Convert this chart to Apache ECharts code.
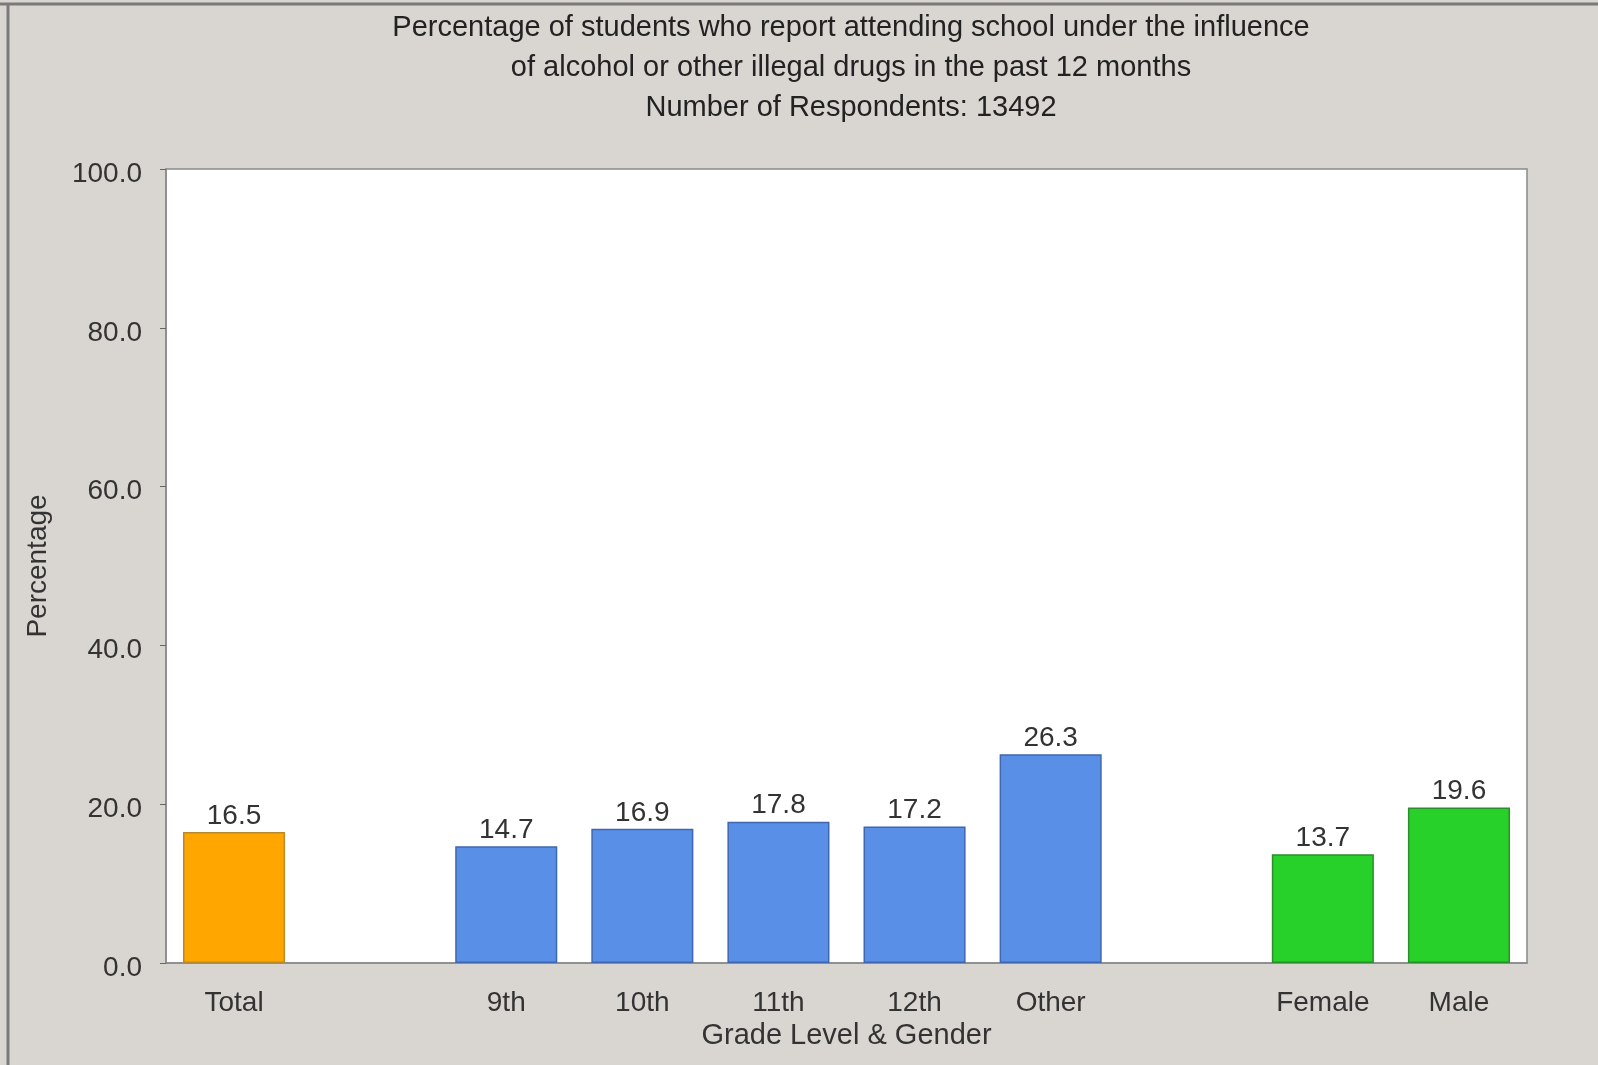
<!DOCTYPE html>
<html>
<head>
<meta charset="utf-8">
<script src="https://cdn.jsdelivr.net/npm/echarts@6/dist/echarts.min.js"></script>
<style>
html,body{margin:0;padding:0;background:#d9d6d1;}
#main{width:1598px;height:1065px;}
</style>
</head>
<body>
<div id="main"></div>
<script>
var titleLines = [
  'Percentage of students who report attending school under the influence',
  'of alcohol or other illegal drugs in the past 12 months',
  'Number of Respondents: 13492'
];
var categories = ['Total', '', '9th', '10th', '11th', '12th', 'Other', '', 'Female', 'Male'];
var values = [16.5, null, 14.7, 16.9, 17.8, 17.2, 26.3, null, 13.7, 19.6];
var groups = ['total', null, 'grade', 'grade', 'grade', 'grade', 'grade', null, 'gender', 'gender'];
var yTicks = [0, 20, 40, 60, 80, 100];
var xAxisName = 'Grade Level & Gender';
var yAxisName = 'Percentage';

var groupFill = { total: '#ffa600', grade: '#5a8fe8', gender: '#27d12a' };
var groupBorder = { total: '#b98a2c', grade: '#3f67b0', gender: '#2a8f2a' };

var FONT = "'Liberation Sans', Arial, sans-serif";
var chart = echarts.init(document.getElementById('main'), null, { renderer: 'canvas' });

var barData = values.map(function (v, i) {
  if (v === null) return null;
  return {
    value: v,
    itemStyle: { color: groupFill[groups[i]], borderColor: groupBorder[groups[i]], borderWidth: 1.5 }
  };
});

chart.setOption({
  backgroundColor: '#d9d6d1',
  animation: false,
  textStyle: { fontFamily: FONT },
  title: {
    text: titleLines.join('\n'),
    left: 846,
    textAlign: 'center',
    top: 3,
    textStyle: { fontFamily: FONT, fontSize: 29, fontWeight: 'normal', color: '#222', lineHeight: 40 }
  },
  graphic: [
    { type: 'line', shape: { x1: 0, y1: 4, x2: 1598, y2: 4 }, style: { stroke: '#7a7a7a', lineWidth: 3 } },
    { type: 'line', shape: { x1: 8, y1: 4, x2: 8, y2: 1065 }, style: { stroke: '#7a7a7a', lineWidth: 3 } }
  ],
  grid: {
    left: 166, right: 71, top: 169, bottom: 102,
    show: true, backgroundColor: '#ffffff', borderColor: '#8a8a8a', borderWidth: 1.5
  },
  xAxis: {
    type: 'category',
    data: categories,
    name: xAxisName,
    nameLocation: 'middle',
    nameGap: 57,
    nameTextStyle: { fontFamily: FONT, fontSize: 29, color: '#333' },
    axisLine: { lineStyle: { color: '#8a8a8a', width: 1.5 } },
    axisTick: { alignWithLabel: true, length: 11, lineStyle: { color: '#666' } },
    axisLabel: { fontFamily: FONT, fontSize: 28, color: '#333', margin: 26, interval: 0 }
  },
  yAxis: {
    type: 'value',
    min: yTicks[0],
    max: yTicks[yTicks.length - 1],
    interval: yTicks[1] - yTicks[0],
    name: yAxisName,
    nameLocation: 'middle',
    nameGap: 114,
    nameTextStyle: { fontFamily: FONT, fontSize: 28, color: '#333' },
    splitLine: { show: false },
    axisLine: { show: true, lineStyle: { color: '#8a8a8a', width: 1.5 } },
    axisTick: { show: true, length: 6, lineStyle: { color: '#666' } },
    axisLabel: {
      fontFamily: FONT, fontSize: 28, color: '#333', margin: 24,
      formatter: function (v) { return '{a|' + v.toFixed(1) + '}'; },
      rich: { a: { fontFamily: FONT, fontSize: 28, color: '#333', padding: [10, 0, 0, 0] } }
    }
  },
  series: [{
    type: 'bar',
    data: barData,
    barWidth: '75%',
    label: {
      show: true, position: 'top', distance: 2,
      fontFamily: FONT, fontSize: 28, color: '#333',
      formatter: function (p) { return p.value.toFixed(1); }
    }
  }]
});
</script>
</body>
</html>
